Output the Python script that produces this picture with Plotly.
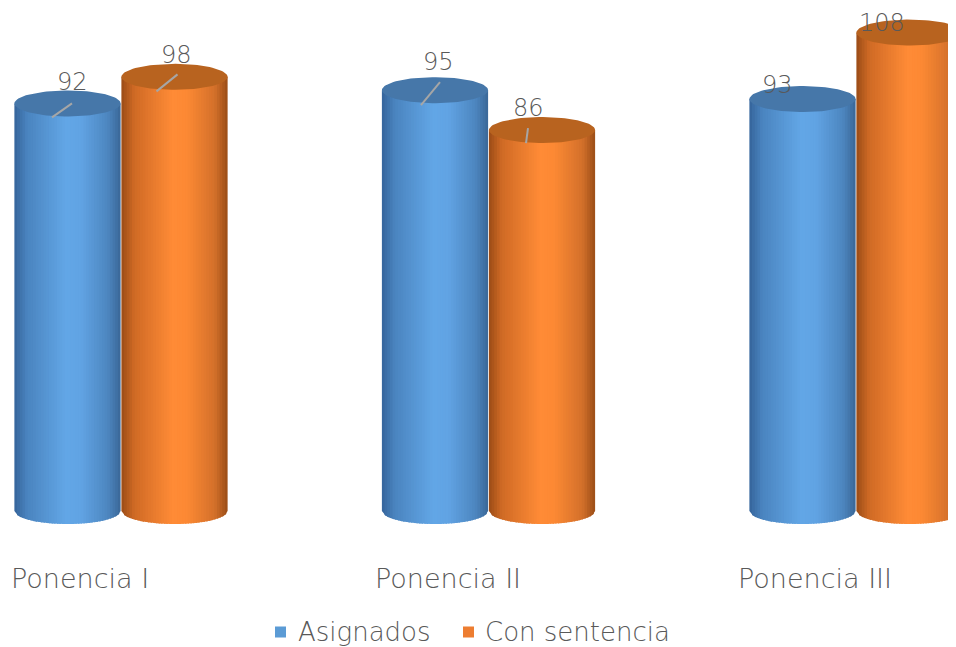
import numpy as np
import plotly.graph_objects as go

# ---------------- data ----------------
categories = ["Ponencia I", "Ponencia II", "Ponencia III"]
asignados = [92, 95, 93]
con_sentencia = [98, 86, 108]
series_names = ["Asignados", "Con sentencia"]

# ---------------- styling / layout constants ----------------
W, H = 956, 647        # browser window
BODY = 8               # default page margin around the figure
WF, HF = W - BODY, H - BODY
PX_X = 367.5           # pixels per category step
PX_Y = 4.43            # pixels per value unit
X0_PX = 121 - BODY     # figure pixel of first category centre
BASE_PX = 511 - BODY   # figure pixel of value 0
SER_OFF = [-0.1456, 0.1456]
HALF_W = 0.1445
ELL_B = 13 / PX_Y      # ellipse semi-height in value units
N_STRIPS = 40
TEXT_COLOR = "#595959"
FONT = "DejaVu Sans"
WEIGHT = 200

legend_colors = ["#5B9BD5", "#ED7D31"]
side_stops = [
    [(0.0, "#35649a"), (0.12, "#4a84bf"), (0.48, "#62a6e6"), (0.62, "#61a4e4"), (0.88, "#4d86c0"), (1.0, "#3a6797")],
    [(0.0, "#9a4c16"), (0.12, "#cf6a25"), (0.48, "#ff8b36"), (0.62, "#fc8934"), (0.88, "#d3702a"), (1.0, "#9a4d17")],
]
top_colors = ["#4677a9", "#b8631f"]

# label placement (pixel offsets from top-ellipse centre, y downward)
label_off = [[(5, -21), (4, -28), (-25, -14)], [(2, -22), (-14, -22), (-28, -10)]]
leader = [[(-15.5, 14, 4.5, 0), (-14, 15, 5, -8), None],
          [(-18, 14.5, 3, -2.5), (-16, 13, -14, -2), None]]
cat_xshift = -41
cat_y_px = 578 - BODY
legend_y_px = 632 - BODY
legend_items_px = [(275 - BODY, 296 - BODY), (463 - BODY, 483 - BODY)]  # square left, text left
SQ = 11


def hex2rgb(h):
    h = h.lstrip("#")
    return np.array([int(h[i:i + 2], 16) for i in (0, 2, 4)], dtype=float)


def grad(stops, u):
    for (u0, c0), (u1, c1) in zip(stops[:-1], stops[1:]):
        if u0 <= u <= u1:
            f = (u - u0) / (u1 - u0) if u1 > u0 else 0
            c = hex2rgb(c0) * (1 - f) + hex2rgb(c1) * f
            return "rgb(%d,%d,%d)" % tuple(np.round(c))
    return stops[-1][1]


fig = go.Figure()
series_vals = [asignados, con_sentencia]

for s, vals in enumerate(series_vals):
    # cylinder sides as vertical gradient strips
    for k in range(N_STRIPS):
        t0 = -1 + 2 * k / N_STRIPS
        t1 = min(1.0, -1 + 2 * (k + 1) / N_STRIPS + 0.025)
        tm = -1 + 2 * (k + 0.5) / N_STRIPS
        xs, ys = [], []
        for i, v in enumerate(vals):
            cx = i + SER_OFF[s]
            xl, xr = cx + t0 * HALF_W, cx + t1 * HALF_W
            bl = -ELL_B * np.sqrt(max(0.0, 1 - t0 ** 2))
            br = -ELL_B * np.sqrt(max(0.0, 1 - t1 ** 2))
            xs += [xl, xr, xr, xl, xl, None]
            ys += [v, v, br, bl, v, None]
        fig.add_trace(go.Scatter(x=xs, y=ys, mode="lines", fill="toself",
                                 fillcolor=grad(side_stops[s], (tm + 1) / 2),
                                 line=dict(width=0), hoverinfo="skip", showlegend=False))
    # top ellipses
    th = np.linspace(0, 2 * np.pi, 90)
    xs, ys = [], []
    for i, v in enumerate(vals):
        cx = i + SER_OFF[s]
        xs += list(cx + HALF_W * np.cos(th)) + [None]
        ys += list(v + ELL_B * np.sin(th)) + [None]
    fig.add_trace(go.Scatter(x=xs, y=ys, mode="lines", fill="toself",
                             fillcolor=top_colors[s], line=dict(width=0),
                             hoverinfo="skip", showlegend=False))

annotations = []
shapes = []
for s, vals in enumerate(series_vals):
    for i, v in enumerate(vals):
        cx = i + SER_OFF[s]
        dx, dy = label_off[s][i]
        annotations.append(dict(x=cx, y=v, xref="x", yref="y", text=str(v), showarrow=False,
                                xshift=dx, yshift=-dy, borderpad=0,
                                font=dict(size=24, color=TEXT_COLOR, family=FONT, weight=WEIGHT)))
        ld = leader[s][i]
        if ld:
            shapes.append(dict(type="line", xref="x", yref="y", xsizemode="pixel", ysizemode="pixel",
                               xanchor=cx, yanchor=v, x0=ld[0], y0=-ld[1], x1=ld[2], y1=-ld[3],
                               line=dict(color="#a6a6a6", width=2)))

for i, c in enumerate(categories):
    annotations.append(dict(x=i, y=(HF - cat_y_px) / HF, xref="x", yref="paper", text=c, showarrow=False,
                            xshift=cat_xshift, yanchor="middle",
                            font=dict(size=27, color=TEXT_COLOR, family=FONT, weight=WEIGHT)))

# legend (manual, to keep the plot area full size)
ly = (HF - legend_y_px) / HF
for s, name in enumerate(series_names):
    sq_l, tx_l = legend_items_px[s]
    shapes.append(dict(type="rect", xref="paper", yref="paper",
                       x0=sq_l / WF, x1=(sq_l + SQ) / WF,
                       y0=ly - SQ / 2 / HF, y1=ly + SQ / 2 / HF,
                       fillcolor=legend_colors[s], line=dict(width=0)))
    annotations.append(dict(x=tx_l / WF, y=ly, xref="paper", yref="paper", text=name, showarrow=False,
                            xanchor="left", yanchor="middle",
                            font=dict(size=26, color=TEXT_COLOR, family=FONT, weight=WEIGHT)))

fig.update_layout(
    width=WF, height=HF,
    margin=dict(l=0, r=0, t=0, b=0),
    paper_bgcolor="white", plot_bgcolor="white",
    xaxis=dict(range=[-X0_PX / PX_X, (WF - X0_PX) / PX_X], visible=False),
    yaxis=dict(range=[-(HF - BASE_PX) / PX_Y, BASE_PX / PX_Y], visible=False),
    showlegend=False,
    annotations=annotations,
    shapes=shapes,
)

fig.write_html("out.html")
